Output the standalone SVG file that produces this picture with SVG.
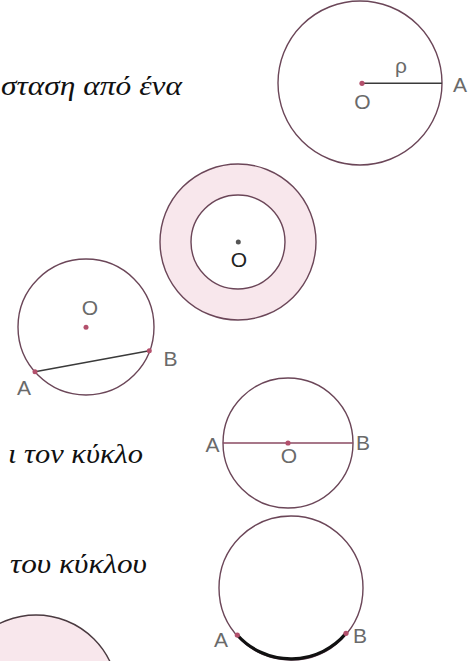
<svg xmlns="http://www.w3.org/2000/svg" width="473" height="661" viewBox="0 0 473 661">
<style>
.txt{font-family:"Liberation Serif","Times New Roman",serif;font-style:italic;font-size:27px;fill:#111}
.lbl{font-family:"Liberation Sans",Arial,sans-serif;font-size:21px;fill:#6a6a6a;text-anchor:middle}
.circ{fill:none;stroke:#6b4658;stroke-width:1.4}
.pink{fill:#f8e7ec}
.dot{fill:#b3506c}
.seg{stroke:#3a3a3a;stroke-width:1.4;fill:none}
</style>
<rect width="473" height="661" fill="#ffffff"/>
<g id="texts">
<text class="txt" x="1" y="95" textLength="181" lengthAdjust="spacingAndGlyphs">σταση από ένα</text>
<text class="txt" x="8" y="463" textLength="135" lengthAdjust="spacingAndGlyphs">ι τον κύκλο</text>
<text class="txt" x="10" y="573" textLength="137" lengthAdjust="spacingAndGlyphs">του κύκλου</text>
</g>
<g id="circle-radius">
<circle class="circ" cx="360" cy="83" r="82"/>
<line class="seg" x1="362" y1="83.3" x2="442" y2="83.3" stroke="#555"/>
<circle class="dot" cx="362" cy="83.3" r="2.6"/>
<text class="lbl" x="401" y="73">ρ</text>
<text class="lbl" x="460" y="92">A</text>
<text class="lbl" x="362.5" y="109">O</text>
</g>
<g id="annulus">
<circle cx="238" cy="242" r="78" class="pink" stroke="#6b4658" stroke-width="1.4"/>
<circle cx="238" cy="242" r="47" fill="#ffffff" stroke="#6b4658" stroke-width="1.4"/>
<circle cx="238.3" cy="242" r="2.5" fill="#555"/>
<text class="lbl" x="239" y="267" style="fill:#222">O</text>
</g>
<g id="circle-chord">
<circle class="circ" cx="86" cy="327" r="68"/>
<line class="seg" x1="35" y1="371.7" x2="149.3" y2="350.7" stroke="#111"/>
<circle class="dot" cx="86" cy="327.3" r="2.5"/>
<circle class="dot" cx="35" cy="371.7" r="2.5"/>
<circle class="dot" cx="149.3" cy="350.7" r="2.5"/>
<text class="lbl" x="90" y="315">O</text>
<text class="lbl" x="170.5" y="366">B</text>
<text class="lbl" x="24" y="395">A</text>
</g>
<g id="circle-diameter">
<circle class="circ" cx="288" cy="443" r="65"/>
<line x1="223" y1="443" x2="353" y2="443" stroke="#8a4a62" stroke-width="1.5"/>
<circle class="dot" cx="288" cy="443" r="2.6"/>
<text class="lbl" x="212.5" y="452">A</text>
<text class="lbl" x="363" y="450">B</text>
<text class="lbl" x="289" y="463">O</text>
</g>
<g id="circle-arc">
<circle class="circ" cx="291" cy="588" r="72"/>
<path d="M237.3 635 A72 72 0 0 0 346 633.3" fill="none" stroke="#111" stroke-width="3.2"/>
<circle class="dot" cx="237.3" cy="635" r="2.6"/>
<circle class="dot" cx="346" cy="633.3" r="2.6"/>
<text class="lbl" x="221" y="647">A</text>
<text class="lbl" x="360" y="643">B</text>
</g>
<g id="disc">
<circle cx="36" cy="697" r="82" class="pink" stroke="#4a3a40" stroke-width="1.4"/>
</g>
</svg>
